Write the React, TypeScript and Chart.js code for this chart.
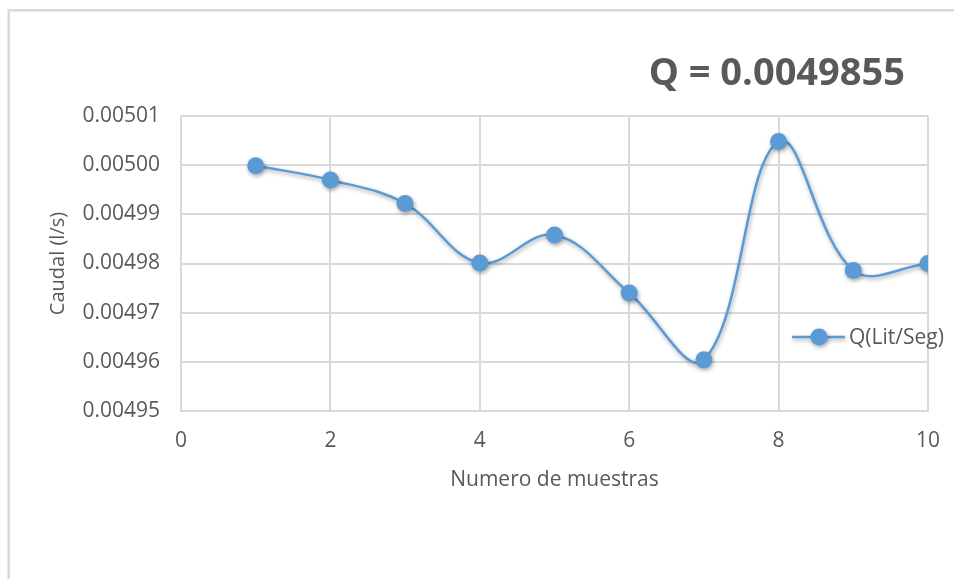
import React, { useEffect, useRef } from "react";
import { Chart, registerables } from "chart.js";

Chart.register(...registerables);

// Sample numbers and measured flow (l/s)
const sampleNumbers = [1, 2, 3, 4, 5, 6, 7, 8, 9, 10];
const flowValues = [
  0.0049999, 0.0049970, 0.0049922, 0.0049801, 0.0049858,
  0.0049740, 0.0049604, 0.0050048, 0.0049786, 0.0049800,
];
const seriesLabel = "Q(Lit/Seg)";
const chartTitle = "Q = 0.0049855";
const xAxisTitle = "Numero de muestras";
const yAxisTitle = "Caudal (l/s)";

const BLUE = "#5B9BD5";
const TEXT = "#595959";
const GRID = "#d9d9d9";
const FONT = "'Open Sans', sans-serif";

const W = 954;
const H = 579;

const framePlugin = {
  id: "frame",
  beforeDraw(chart: any) {
    const ctx = chart.ctx;
    ctx.save();
    ctx.fillStyle = "#ffffff";
    ctx.fillRect(0, 0, chart.width, chart.height);
    ctx.strokeStyle = "#d9d9d9";
    ctx.lineWidth = 2.5;
    ctx.strokeRect(8.7, 10.3, chart.width + 20, chart.height + 20);
    ctx.restore();
  },
};

const shadowPlugin = {
  id: "seriesShadow",
  beforeDatasetDraw(chart: any) {
    const ctx = chart.ctx;
    ctx.save();
    ctx.shadowColor = "rgba(0,0,0,0.35)";
    ctx.shadowBlur = 4;
    ctx.shadowOffsetX = 1;
    ctx.shadowOffsetY = 2;
  },
  afterDatasetDraw(chart: any) {
    chart.ctx.restore();
  },
};

const annotationPlugin = {
  id: "titleAndLegend",
  afterDraw(chart: any) {
    const ctx = chart.ctx;
    ctx.save();
    // title
    ctx.fillStyle = TEXT;
    ctx.font = `bold 38px ${FONT}`;
    ctx.textAlign = "right";
    ctx.textBaseline = "alphabetic";
    ctx.fillText(chartTitle, 905, 85);

    // legend inside the plot
    const ly = 337;
    ctx.shadowColor = "rgba(0,0,0,0.35)";
    ctx.shadowBlur = 4;
    ctx.shadowOffsetX = 1;
    ctx.shadowOffsetY = 2;
    ctx.strokeStyle = BLUE;
    ctx.lineWidth = 2.5;
    ctx.beginPath();
    ctx.moveTo(792, ly);
    ctx.lineTo(845, ly);
    ctx.stroke();
    ctx.fillStyle = BLUE;
    ctx.beginPath();
    ctx.arc(819, ly, 8.5, 0, Math.PI * 2);
    ctx.fill();
    ctx.shadowColor = "transparent";
    ctx.fillStyle = TEXT;
    ctx.font = `21px ${FONT}`;
    ctx.textAlign = "left";
    ctx.textBaseline = "middle";
    ctx.fillText(seriesLabel, 849, ly + 1);
    ctx.restore();
  },
};

export default function App() {
  const canvasRef = useRef<HTMLCanvasElement | null>(null);

  useEffect(() => {
    document.body.style.margin = "0";
    const canvas = canvasRef.current;
    if (!canvas) return;
    const chart = new Chart(canvas, {
      type: "line",
      data: {
        datasets: [
          {
            label: seriesLabel,
            data: sampleNumbers.map((x, i) => ({ x, y: flowValues[i] })),
            borderColor: BLUE,
            backgroundColor: BLUE,
            borderWidth: 2.5,
            pointRadius: 8.5,
            pointBorderWidth: 0,
            pointBackgroundColor: BLUE,
            tension: 0.38,
            fill: false,
          },
        ],
      },
      options: {
        animation: false,
        responsive: false,
        maintainAspectRatio: false,
        layout: { padding: { top: 116, right: 26, left: 0, bottom: 0 } },
        plugins: {
          legend: { display: false },
          tooltip: { enabled: false },
          title: { display: false },
        },
        scales: {
          x: {
            type: "linear",
            min: 0,
            max: 10,
            afterFit(scale: any) {
              scale.height = H - 411;
              scale.paddingLeft = 0;
              scale.paddingRight = 0;
            },
            ticks: {
              stepSize: 2,
              color: TEXT,
              font: { family: FONT, size: 21 },
              padding: 17,
            },
            grid: { color: GRID, lineWidth: 2, drawTicks: false },
            border: { color: GRID, width: 2 },
            title: {
              display: true,
              text: xAxisTitle,
              color: TEXT,
              font: { family: FONT, size: 21 },
              padding: { top: 0, bottom: 86 },
            },
          },
          y: {
            type: "linear",
            min: 0.00495,
            max: 0.00501,
            afterFit(scale: any) {
              scale.width = 181;
              scale.paddingTop = 0;
              scale.paddingBottom = 0;
            },
            ticks: {
              stepSize: 0.00001,
              color: TEXT,
              font: { family: FONT, size: 21 },
              padding: 21,
              callback: (v: any) => Number(v).toFixed(5),
            },
            grid: { color: GRID, lineWidth: 2, drawTicks: false },
            border: { color: GRID, width: 2 },
            title: {
              display: true,
              text: yAxisTitle,
              color: TEXT,
              font: { family: FONT, size: 20 },
              padding: { top: 46, bottom: 0 },
            },
          },
        },
      },
      plugins: [framePlugin, shadowPlugin, annotationPlugin],
    });
    return () => chart.destroy();
  }, []);

  return (
    <div style={{ width: W, height: H, position: "relative" }}>
      <canvas ref={canvasRef} width={W} height={H} style={{ display: "block" }} />
    </div>
  );
}
